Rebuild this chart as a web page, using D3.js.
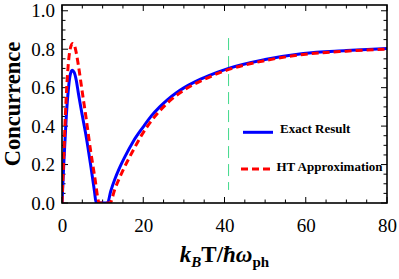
<!DOCTYPE html>
<html>
<head>
<meta charset="utf-8">
<script src="https://cdn.jsdelivr.net/npm/d3@7"></script>
<style>
  html, body { margin: 0; padding: 0; background: #fff; }
  svg { display: block; }
</style>
</head>
<body>
<svg id="chart" width="399" height="279"></svg>
<script>
// ---- data ----
const exactX = [0, 0.5, 1, 1.5, 2, 2.5, 3, 3.5, 4, 5, 6, 7, 8, 8.4, 11.2, 12, 13, 14, 15.5, 17.5, 20, 22, 24, 26, 28, 30, 32.7, 36, 41, 50, 59.4, 70, 80];
const exactY = [0, 0.23, 0.43, 0.575, 0.665, 0.691, 0.68, 0.64, 0.575, 0.455, 0.34, 0.205, 0.06, 0, 0, 0.062, 0.124, 0.175, 0.241, 0.319, 0.396, 0.453, 0.499, 0.538, 0.571, 0.599, 0.63, 0.661, 0.70, 0.746, 0.778, 0.793, 0.804];
const htX = [0, 0.5, 1, 1.5, 2, 2.6, 3, 3.5, 4, 5, 6, 7, 8, 9.2, 11.8, 13, 15, 17.5, 19.6, 22, 24, 27, 30, 35, 40, 50, 60, 70, 80];
const htY = [0, 0.28, 0.535, 0.71, 0.80, 0.83, 0.823, 0.782, 0.72, 0.576, 0.432, 0.278, 0.144, 0, 0, 0.072, 0.17, 0.273, 0.353, 0.427, 0.478, 0.54, 0.587, 0.643, 0.687, 0.741, 0.774, 0.79, 0.80];
const markerX = 41;
const markerYRange = [0.068, 0.858];
const xTicks = [0, 20, 40, 60, 80];
const yTicks = [0.0, 0.2, 0.4, 0.6, 0.8, 1.0];
const legendLabels = ["Exact Result", "HT Approximation"];

// ---- layout ----
const FONT = '"Liberation Serif", "Times New Roman", serif';
const svg = d3.select("#chart");
const L = 62, R = 387, T = 5, B = 203;
const x = d3.scaleLinear().domain([0, 80]).range([L, R]);
const y = d3.scaleLinear().domain([0, 1.03]).range([B, T]);

svg.append("defs").append("clipPath").attr("id", "clip")
  .append("rect").attr("x", L).attr("y", T).attr("width", R - L).attr("height", B - T);

const xMinor = d3.range(0, 81, 5);
const yMinor = d3.range(0, 1.0001, 0.05);

// bottom axis
const bottom = svg.append("g").attr("transform", `translate(0,${B})`)
  .call(d3.axisBottom(x).tickValues(xTicks).tickFormat(d3.format("d")).tickSize(0).tickPadding(16));
bottom.select(".domain").remove();
bottom.attr("font-family", null).attr("font-size", null);
bottom.selectAll("text").style("font-family", FONT).style("font-size", "19px").attr("fill", "#000");

// left axis
const left = svg.append("g").attr("transform", `translate(${L},0)`)
  .call(d3.axisLeft(y).tickValues(yTicks).tickFormat(d3.format(".1f")).tickSize(0).tickPadding(7));
left.select(".domain").remove();
left.attr("font-family", null).attr("font-size", null);
left.selectAll("text").style("font-family", FONT).style("font-size", "19px").attr("fill", "#000");

// tick marks (inward, all sides)
const tk = svg.append("g").attr("stroke", "#000").attr("stroke-width", 1);
xMinor.forEach(v => {
  const len = xTicks.includes(v) ? 6 : 3.5;
  tk.append("line").attr("x1", x(v)).attr("x2", x(v)).attr("y1", B).attr("y2", B - len);
  tk.append("line").attr("x1", x(v)).attr("x2", x(v)).attr("y1", T).attr("y2", T + len);
});
yMinor.forEach(v => {
  const major = yTicks.some(t => Math.abs(t - v) < 1e-6);
  const len = major ? 6 : 3.5;
  tk.append("line").attr("y1", y(v)).attr("y2", y(v)).attr("x1", L).attr("x2", L + len);
  tk.append("line").attr("y1", y(v)).attr("y2", y(v)).attr("x1", R).attr("x2", R - len);
});

// vertical marker
svg.append("line")
  .attr("x1", x(markerX)).attr("x2", x(markerX))
  .attr("y1", y(markerYRange[1])).attr("y2", y(markerYRange[0]))
  .attr("stroke", "#3fd98a").attr("stroke-width", 1)
  .attr("stroke-dasharray", "12,6");

// curves
const line = d3.line().curve(d3.curveMonotoneX);
const plot = svg.append("g").attr("clip-path", "url(#clip)");
plot.append("path")
  .attr("d", line(exactX.map((v, i) => [x(v), y(exactY[i])])))
  .attr("fill", "none").attr("stroke", "#0000ff").attr("stroke-width", 3);
plot.append("path")
  .attr("d", line(htX.map((v, i) => [x(v), y(htY[i])])))
  .attr("fill", "none").attr("stroke", "#ff0000").attr("stroke-width", 3)
  .attr("stroke-dasharray", "7,4");

// frame
svg.append("rect").attr("x", L).attr("y", T).attr("width", R - L).attr("height", B - T)
  .attr("fill", "none").attr("stroke", "#000").attr("stroke-width", 1.6);

// legend
const leg = svg.append("g").style("font-family", FONT);
leg.append("line").attr("x1", 243).attr("x2", 273).attr("y1", 132.3).attr("y2", 132.3)
  .attr("stroke", "#0000ff").attr("stroke-width", 3);
leg.append("text").attr("x", 280).attr("y", 133.3).style("font-family", FONT).style("font-size", "13px").attr("font-weight", "bold")
  .text(legendLabels[0]);
leg.append("line").attr("x1", 241).attr("x2", 271).attr("y1", 169).attr("y2", 169)
  .attr("stroke", "#ff0000").attr("stroke-width", 3).attr("stroke-dasharray", "7,4");
leg.append("text").attr("x", 276.5).attr("y", 170.7).style("font-family", FONT).style("font-size", "13px").attr("font-weight", "bold")
  .text(legendLabels[1]);

// y title
svg.append("text")
  .attr("transform", `translate(20,${(T + B) / 2}) rotate(-90)`)
  .attr("text-anchor", "middle").style("font-family", FONT).style("font-size", "22.5px").attr("font-weight", "bold")
  .text("Concurrence");

// x title
const xt = svg.append("text").attr("x", (L + R) / 2).attr("y", 262)
  .attr("text-anchor", "middle").style("font-family", FONT).style("font-size", "23px").attr("font-weight", "bold");
xt.append("tspan").attr("font-style", "italic").text("k");
xt.append("tspan").attr("font-style", "italic").style("font-size", "15px").attr("dy", 5).text("B");
xt.append("tspan").attr("dy", -5).text("T/");
xt.append("tspan").attr("font-style", "italic").text("ħω");
xt.append("tspan").style("font-size", "15px").attr("dy", 5).text("ph");
</script>
</body>
</html>
